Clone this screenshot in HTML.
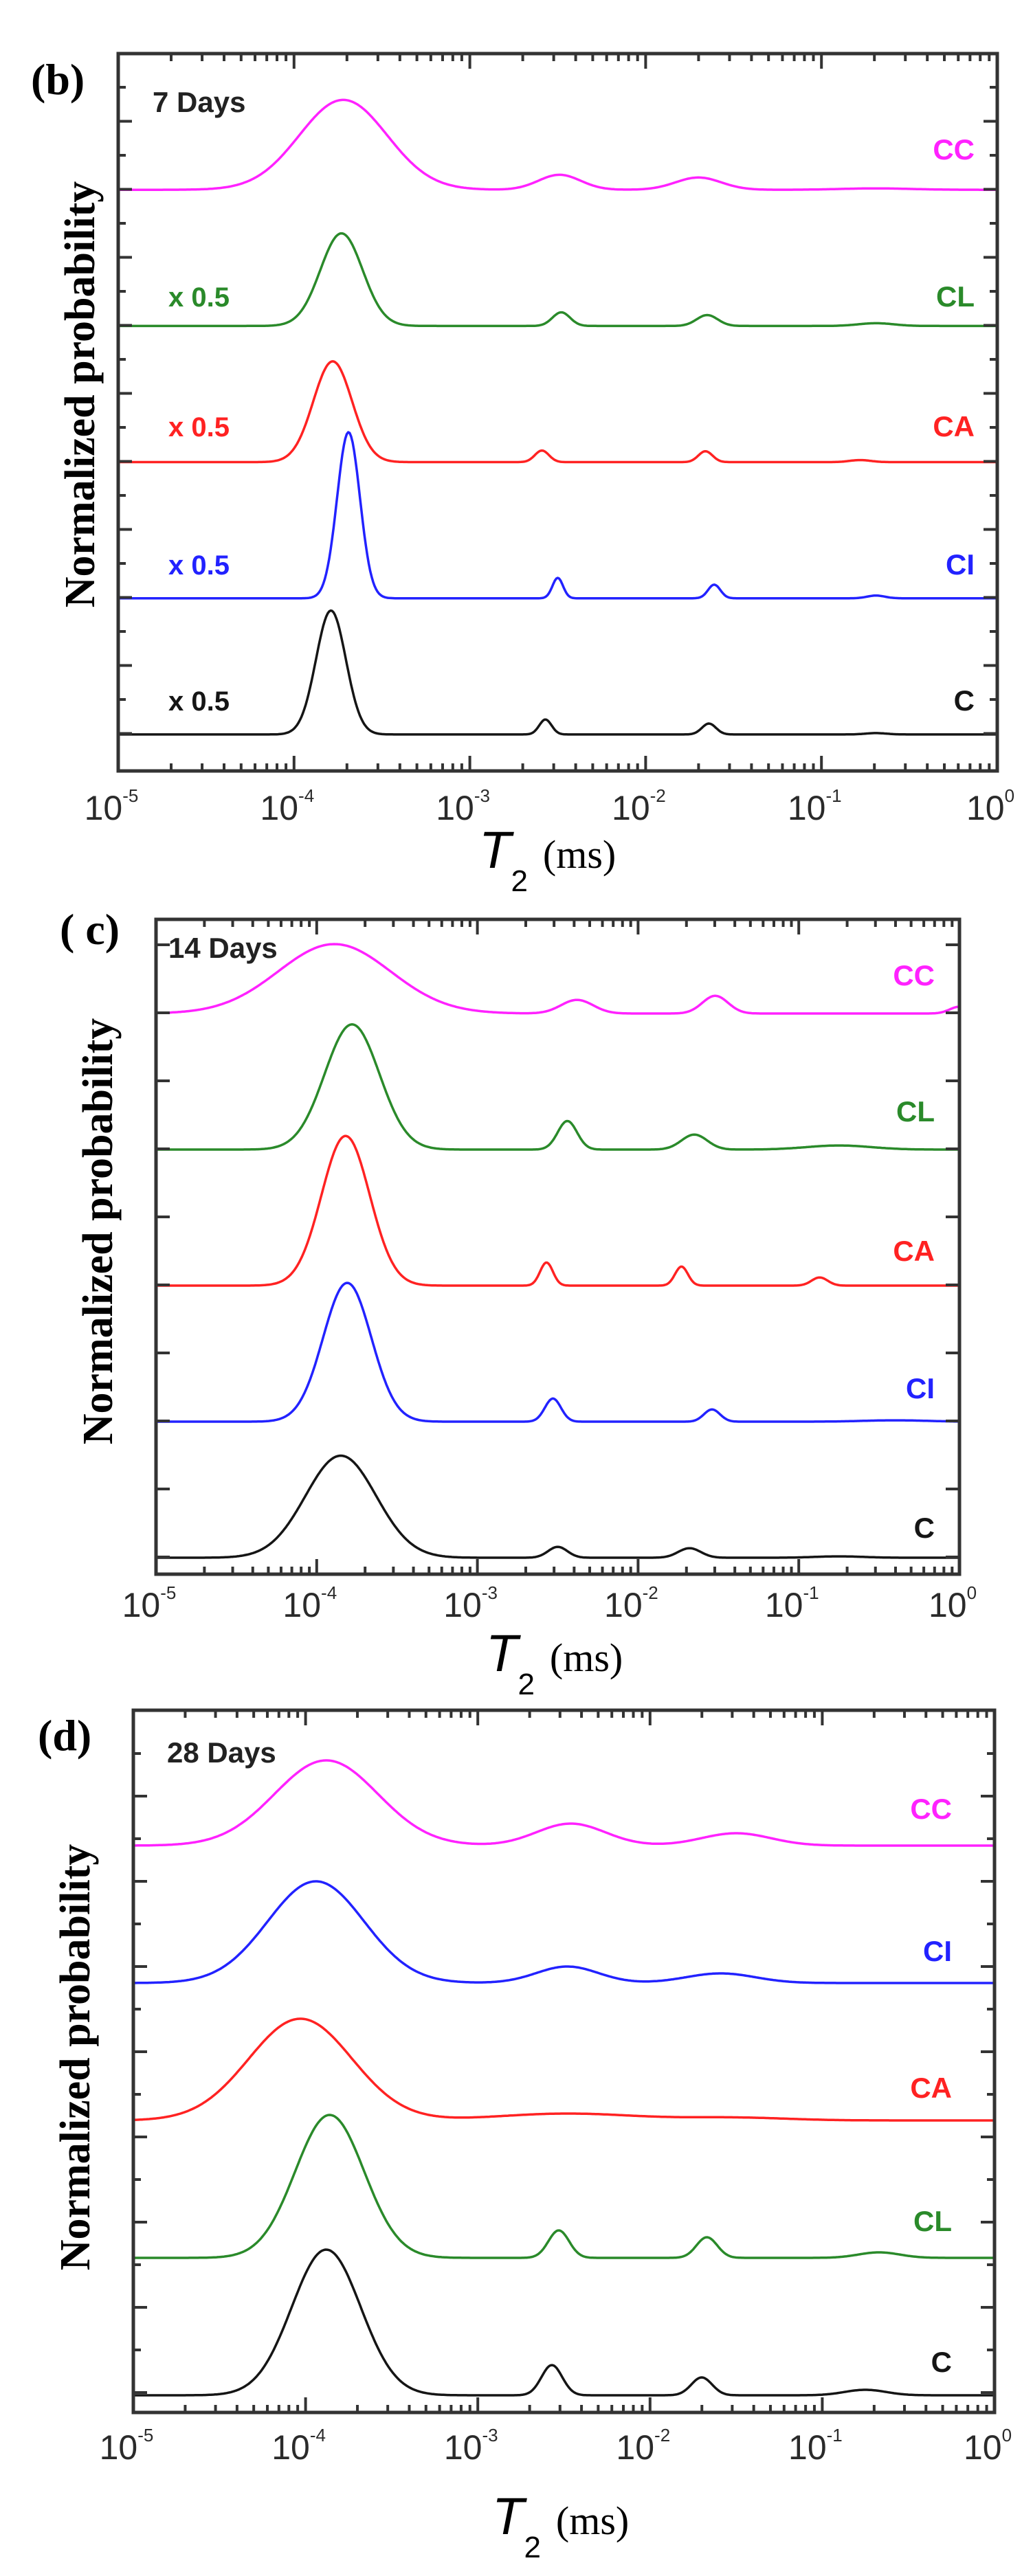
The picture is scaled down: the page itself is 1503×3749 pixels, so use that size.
<!DOCTYPE html>
<html><head><meta charset="utf-8"><style>
html,body{margin:0;padding:0;background:#fff}
svg{display:block}
</style></head><body>
<svg id="fig" xmlns="http://www.w3.org/2000/svg" width="1503" height="3749" viewBox="0 0 1503 3749"></svg>
<script>
// ---- data (log10 T2 center, normalized height, log width) ----
const seriesNames = ['C','CI','CA','CL','CC'];
const xTickExps = [-5,-4,-3,-2,-1,0];
// Panel (b) 7 days
const b_C  = [[-3.79,0.91,0.085],[-2.57,0.11,0.035],[-1.64,0.08,0.04],[-0.69,0.01,0.06]];
const b_CI = [[-3.69,1.22,0.065],[-2.50,0.15,0.03],[-1.61,0.10,0.035],[-0.69,0.02,0.05]];
const b_CA = [[-3.78,0.74,0.11],[-2.59,0.085,0.04],[-1.66,0.08,0.04],[-0.78,0.015,0.06]];
const b_CL = [[-3.73,0.68,0.12],[-2.48,0.10,0.05],[-1.65,0.08,0.06],[-0.69,0.02,0.1]];
const b_CC = [[-3.72,0.66,0.25],[-2.49,0.11,0.12],[-1.70,0.09,0.13],[-0.69,0.01,0.2]];
const b_order = ['C','CI','CA','CL','CC'];
const b_scaleLabels = ['x 0.5','x 0.5','x 0.5','x 0.5',''];
// Panel (c) 14 days
const c_C  = [[-3.85,0.75,0.22],[-2.50,0.08,0.06],[-1.68,0.07,0.07],[-0.75,0.01,0.15]];
const c_CI = [[-3.81,1.02,0.15],[-2.53,0.17,0.05],[-1.54,0.09,0.05],[-0.4,0.01,0.2]];
const c_CA = [[-3.82,1.10,0.15],[-2.57,0.17,0.04],[-1.73,0.14,0.04],[-0.87,0.06,0.05]];
const c_CL = [[-3.78,0.92,0.17],[-2.44,0.21,0.06],[-1.65,0.11,0.08],[-0.75,0.03,0.2]];
const c_CC = [[-3.89,0.51,0.35],[-2.38,0.10,0.1],[-1.52,0.13,0.08],[0.0,0.05,0.06]];
const c_order = ['C','CI','CA','CL','CC'];
// Panel (d) 28 days
const d_C  = [[-3.88,1.06,0.2],[-2.57,0.22,0.06],[-1.70,0.13,0.06],[-0.75,0.04,0.12]];
const d_CL = [[-3.86,1.04,0.2],[-2.53,0.20,0.06],[-1.67,0.15,0.06],[-0.67,0.04,0.12]];
const d_CA = [[-4.03,0.74,0.3],[-2.48,0.05,0.4],[-1.5,0.02,0.3]];
const d_CI = [[-3.94,0.74,0.28],[-2.48,0.12,0.18],[-1.59,0.07,0.2]];
const d_CC = [[-3.88,0.62,0.3],[-2.46,0.16,0.2],[-1.50,0.09,0.2]];
const d_order = ['C','CL','CA','CI','CC'];

const colors = {C:'#151515',CI:'#2222ff',CA:'#ff2222',CL:'#2a8a2a',CC:'#ff22ff'};
const NS='http://www.w3.org/2000/svg';
const svg=document.getElementById('fig');
function el(tag,attrs,parent){const e=document.createElementNS(NS,tag);for(const k in attrs)e.setAttribute(k,attrs[k]);(parent||svg).appendChild(e);return e;}

const panels=[
 {id:'b',L:172,R:1451,T:78,B:1122,yMin:-0.268,yMax:5.0,days:'7 Days',daysX:222,daysY:163,
  lab:'(b)',labX:45,labY:137,titleX:137,titleY:574,tickLabY:1193,t2X:697,t2Y:1263,
  data:{C:b_C,CI:b_CI,CA:b_CA,CL:b_CL,CC:b_CC},order:b_order,scale:b_scaleLabels,
  nameY:[1019,821,620,431,217],nameR:1418,yTick0:127,yTickStep:49.5},
 {id:'c',L:227,R:1396,T:1338,B:2291,yMin:-0.121,yMax:4.692,days:'14 Days',daysX:245,daysY:1394,
  lab:'( c)',labX:87,labY:1374,titleX:163,titleY:1792,tickLabY:2353,t2X:707,t2Y:2432,
  data:{C:c_C,CI:c_CI,CA:c_CA,CL:c_CL,CC:c_CC},order:c_order,scale:null,
  nameY:[2223,2020,1820,1617,1419],nameR:1360,yTick0:1375,yTickStep:99},
 {id:'d',L:194,R:1447,T:2489,B:3511,yMin:-0.125,yMax:4.985,days:'28 Days',daysX:243,daysY:2565,
  lab:'(d)',labX:55,labY:2547,titleX:130,titleY:2994,tickLabY:3579,t2X:716,t2Y:3688,
  data:{C:d_C,CL:d_CL,CA:d_CA,CI:d_CI,CC:d_CC},order:d_order,scale:null,
  nameY:[3437,3232,3038,2839,2632],nameR:1385,yTick0:2552,yTickStep:62}
];

panels.forEach(p=>{
  const g=el('g',{});
  
  
  const xs=v=>p.L+(v-(-5))/5*(p.R-p.L);
  const ys=v=>p.B-(v-p.yMin)/(p.yMax-p.yMin)*(p.B-p.T);
  // curves
  p.order.forEach((name,i)=>{
    const peaks=p.data[name];
    let d='';
    for(let k=0;k<=600;k++){
      const lx=-5+5*k/600;
      let v=i;
      peaks.forEach(pk=>{v+=pk[1]*Math.exp(-Math.pow(lx-pk[0],2)/(2*pk[2]*pk[2]));});
      d+=(k?'L':'M')+xs(lx).toFixed(1)+' '+ys(v).toFixed(1);
    }
    const path=el('path',{d:d,fill:'none',stroke:colors[name],'stroke-width':3.5,'stroke-linejoin':'round'},g);
    
    
    const t=el('text',{x:p.nameR,y:p.nameY[i]+15,'text-anchor':'end','font-family':'Liberation Sans, sans-serif','font-weight':'bold','font-size':42,fill:colors[name]},g);
    t.textContent=name;
    
    
    if(p.scale&&p.scale[i]){
      const s=el('text',{x:245,y:p.nameY[i]+15,'font-family':'Liberation Sans, sans-serif','font-weight':'bold','font-size':40,fill:colors[name]},g);
      s.textContent=p.scale[i];
      
      
    }
  });
  // frame
  const fr=el('rect',{x:p.L,y:p.T,width:p.R-p.L,height:p.B-p.T,fill:'none',stroke:'#333','stroke-width':5},g);
  
  
  // x ticks
  let td='';
  xTickExps.forEach((e,j)=>{
    const x=xs(e);
    td+=`M${x} ${p.B}V${p.B-22}M${x} ${p.T}V${p.T+22}`;
    if(j<xTickExps.length-1){for(let m=2;m<=9;m++){const xm=xs(e+Math.log10(m));td+=`M${xm} ${p.B}V${p.B-11}M${xm} ${p.T}V${p.T+11}`;}}
    const t=el('text',{x:x-10,y:p.tickLabY,'text-anchor':'middle','font-family':'Liberation Sans, sans-serif','font-size':50,fill:'#2a2a2a'},g);
    t.textContent='10';
    const sp=el('tspan',{dy:-26,'font-size':26},t);sp.textContent=String(e);
    
    
  });
  // y ticks
  let k=0;
  for(let y=p.yTick0;y<p.B-10;y+=p.yTickStep,k++){
    const len=(k%2===1||p.id==='c')?20:11;
    td+=`M${p.L} ${y}H${p.L+len}M${p.R} ${y}H${p.R-len}`;
  }
  const tk=el('path',{d:td,stroke:'#333','stroke-width':4,fill:'none'},g);
  
  
  // days label
  const dl=el('text',{x:p.daysX,y:p.daysY,'font-family':'Liberation Sans, sans-serif','font-weight':'bold','font-size':42,fill:'#222'},g);
  dl.textContent=p.days;
  
  
  // panel label
  const pl=el('text',{x:p.labX,y:p.labY,'font-family':'Liberation Serif, serif','font-weight':'bold','font-size':64,fill:'#000'},g);
  pl.textContent=p.lab;
  
  
  // y title
  const yt=el('text',{x:p.titleX,y:p.titleY,transform:`rotate(-90 ${p.titleX} ${p.titleY})`,'text-anchor':'middle','font-family':'Liberation Serif, serif','font-weight':'bold','font-size':62,fill:'#000'},g);
  yt.textContent='Normalized probability';
  
  
  // x title
  const xt=el('text',{x:p.t2X,y:p.t2Y,'font-family':'Liberation Sans, sans-serif','font-style':'italic','font-size':76,fill:'#000'},g);
  xt.textContent='T';
  const sub=el('tspan',{dy:34,'font-style':'normal','font-size':44},xt);sub.textContent='2';
  const ms=el('tspan',{dy:-34,dx:22,'font-family':'Liberation Serif, serif','font-style':'normal','font-size':58},xt);ms.textContent='(ms)';
  
  
});
</script>
</body></html>
